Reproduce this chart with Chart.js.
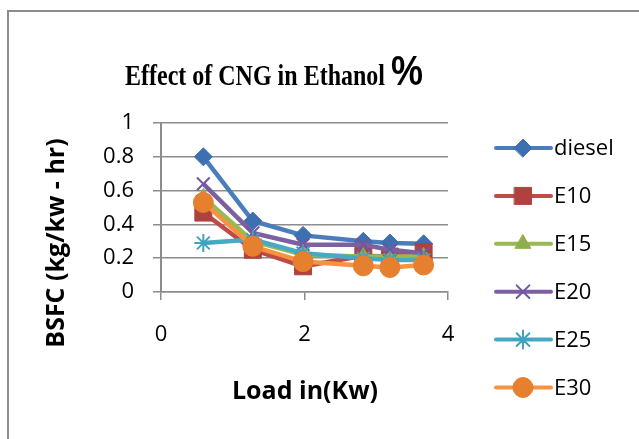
<!DOCTYPE html>
<html>
<head>
<meta charset="utf-8">
<script src="https://cdn.jsdelivr.net/npm/chart.js@4.4.1/dist/chart.umd.min.js"></script>
<style>
    html, body { margin: 0; padding: 0; background: #fff; }
    canvas { display: block; }
</style>
</head>
<body>
<canvas id="bsfcChart" width="639" height="439"></canvas>
<script>
// values
const loadKw = [0.59, 1.28, 1.98, 2.82, 3.19, 3.66];
const seriesNames = ['diesel', 'E10', 'E15', 'E20', 'E25', 'E30'];
const diesel = [0.80, 0.42, 0.335, 0.30, 0.29, 0.285];
const e10 = [0.47, 0.25, 0.152, 0.215, 0.21, 0.237];
const e15 = [0.56, 0.30, 0.22, 0.21, 0.21, 0.21];
const e20 = [0.64, 0.35, 0.28, 0.28, 0.25, 0.23];
const e25 = [0.29, 0.31, 0.23, 0.20, 0.19, 0.19];
const e30 = [0.53, 0.27, 0.18, 0.155, 0.145, 0.16];
const seriesValues = [diesel, e10, e15, e20, e25, e30];

const lineColors = ['#4A7EBB', '#BE4B48', '#98B954', '#7D60A0', '#46AAC5', '#F69240'];
const markerColors = ['#3E6FB0', '#B0413E', '#8DAE4B', '#7355A0', '#3FA3BE', '#E67F2E'];
const markerStyles = ['rectRot', 'rect', 'triangle', 'crossRot', 'star', 'circle'];
const markerSizes = [9, 12, 9, 9, 9, 10];

const tickFont = { family: '"Open Sans", sans-serif', size: 22 };
const axisGray = '#8C8C8C';

const toPoints = (values) => values.map((v, i) => ({ x: loadKw[i], y: v }));
const thinMarker = (style) => style === 'crossRot' || style === 'star';

const frameAndLabels = {
    id: 'frameAndLabels',
    beforeDraw(chart) {
        const { ctx } = chart;
        ctx.save();
        ctx.fillStyle = '#fff';
        ctx.fillRect(0, 0, chart.width, chart.height);
        ctx.strokeStyle = axisGray;
        ctx.lineWidth = 2;
        ctx.strokeRect(8, 11, chart.width + 20, chart.height + 20);
        ctx.restore();
    },
    afterDraw(chart) {
        const { ctx } = chart;
        ctx.save();

        // title: serif text followed by a large sans percent sign, a bit stretched vertically
        const titleMain = 'Effect of CNG in Ethanol ';
        const serifFont = 'bold 24px "Liberation Serif", serif';
        const pctFont = 'bold 36px "Liberation Sans", sans-serif';
        ctx.fillStyle = '#000';
        ctx.textBaseline = 'alphabetic';
        ctx.textAlign = 'left';
        ctx.font = serifFont;
        const mainWidth = ctx.measureText(titleMain).width;
        ctx.font = pctFont;
        const pctWidth = ctx.measureText('%').width;
        const startX = 274 - (mainWidth + pctWidth) / 2;
        ctx.translate(0, 85);
        ctx.scale(1, 1.2);
        ctx.font = serifFont;
        ctx.fillText(titleMain, startX, 0);
        ctx.font = pctFont;
        ctx.fillText('%', startX + mainWidth, 0);
        ctx.setTransform(1, 0, 0, 1, 0, 0);

        // axis titles
        ctx.font = 'bold 25px "Open Sans", sans-serif';
        ctx.textAlign = 'center';
        ctx.textBaseline = 'middle';
        ctx.fillText('Load in(Kw)', 305, 392);
        ctx.translate(57, 243);
        ctx.rotate(-Math.PI / 2);
        ctx.fillText('BSFC (kg/kw - hr)', 0, 0);
        ctx.setTransform(1, 0, 0, 1, 0, 0);

        // legend with line + marker samples
        ctx.font = '22px "Open Sans", sans-serif';
        ctx.textAlign = 'left';
        seriesNames.forEach((name, i) => {
            const y = 148 + i * 47.9;
            ctx.strokeStyle = lineColors[i];
            ctx.lineWidth = 4;
            ctx.lineCap = 'round';
            ctx.beginPath();
            ctx.moveTo(496, y);
            ctx.lineTo(551, y);
            ctx.stroke();
            ctx.fillStyle = markerColors[i];
            ctx.strokeStyle = markerColors[i];
            ctx.lineWidth = thinMarker(markerStyles[i]) ? 2 : 1;
            Chart.helpers.drawPoint(ctx, {
                pointStyle: markerStyles[i],
                radius: markerSizes[i],
                rotation: 0,
                borderWidth: ctx.lineWidth,
            }, 523, y);
            ctx.fillStyle = '#000';
            ctx.fillText(name, 554, y + 1);
        });

        ctx.restore();
    },
};

new Chart(document.getElementById('bsfcChart'), {
    type: 'line',
    data: {
        datasets: seriesNames.map((name, i) => ({
            label: name,
            data: toPoints(seriesValues[i]),
            borderColor: lineColors[i],
            backgroundColor: markerColors[i],
            pointBackgroundColor: markerColors[i],
            pointBorderColor: markerColors[i],
            pointBorderWidth: thinMarker(markerStyles[i]) ? 2 : 1,
            pointStyle: markerStyles[i],
            pointRadius: markerSizes[i],
            borderWidth: 4.5,
            tension: 0,
            order: seriesNames.length - i,
        })),
    },
    options: {
        responsive: false,
        animation: false,
        devicePixelRatio: 1,
        layout: { padding: { left: 0, top: 123, right: 191, bottom: 0 } },
        plugins: {
            legend: { display: false },
            title: { display: false },
            tooltip: { enabled: false },
        },
        scales: {
            x: {
                type: 'linear',
                min: 0,
                max: 4,
                ticks: { stepSize: 2, color: '#000', font: tickFont, padding: 22, maxRotation: 0 },
                grid: { drawOnChartArea: false, drawTicks: true, tickLength: 8, color: axisGray, lineWidth: 1.5 },
                border: { display: true, color: axisGray, width: 1.5 },
                afterFit: (scale) => { scale.height = 147; },
            },
            y: {
                min: 0,
                max: 1,
                ticks: {
                    stepSize: 0.2,
                    color: '#000',
                    font: tickFont,
                    padding: 19,
                    callback: (value) => String(Number(value.toFixed(1))),
                },
                grid: { color: axisGray, lineWidth: 1.5, tickLength: 8 },
                border: { display: true, color: axisGray, width: 2 },
                afterFit: (scale) => { scale.width = 161; },
            },
        },
    },
    plugins: [frameAndLabels],
});
</script>
</body>
</html>
